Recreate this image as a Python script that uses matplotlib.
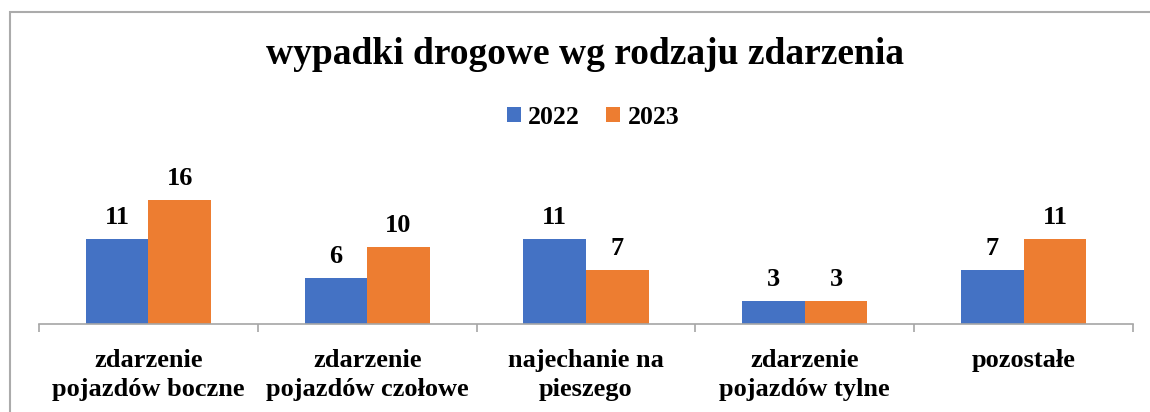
import matplotlib
matplotlib.use("Agg")
import matplotlib.pyplot as plt
import numpy as np
from matplotlib.patches import Rectangle

categories = ["zdarzenie\npojazdów boczne", "zdarzenie\npojazdów czołowe", "najechanie na\npieszego",
              "zdarzenie\npojazdów tylne", "pozostałe"]
series_names = ["2022", "2023"]
values_2022 = [11, 6, 11, 3, 7]
values_2023 = [16, 10, 7, 3, 11]
colors = ["#4472C4", "#ED7D31"]

W, H = 1150, 412
fig = plt.figure(figsize=(W / 100, H / 100), dpi=100)
serif = ["Liberation Serif", "DejaVu Serif"]

# outer border
fig.patches.append(Rectangle((10 / W, -0.1), 1.2, (H - 12) / H + 0.1, transform=fig.transFigure,
                             fill=False, edgecolor="#ABABAB", linewidth=1.5))

ax_left, ax_right = 39, 1133
ax_bottom, ax_top = 324, 150
ax = fig.add_axes([ax_left / W, 1 - ax_bottom / H, (ax_right - ax_left) / W, (ax_bottom - ax_top) / H])
ax.set_xlim(-0.5, len(categories) - 0.5)
ax.set_ylim(0, (ax_bottom - ax_top) / 7.74)

x = np.arange(len(categories))
bw = 0.286
b1 = ax.bar(x - bw / 2, values_2022, bw, color=colors[0], label=series_names[0])
b2 = ax.bar(x + bw / 2, values_2023, bw, color=colors[1], label=series_names[1])
for bars in (b1, b2):
    for r in bars:
        ax.annotate(f"{int(r.get_height())}", (r.get_x() + r.get_width() / 2, r.get_height()),
                    xytext=(0, 7), textcoords="offset points", ha="center", va="bottom",
                    fontsize=19, fontweight="bold", family=serif)

for s in ["top", "right", "left"]:
    ax.spines[s].set_visible(False)
ax.spines["bottom"].set_color("#A6A6A6")
ax.spines["bottom"].set_linewidth(1.2)
ax.set_yticks([])
ax.set_xticks(np.arange(len(categories) + 1) - 0.5, minor=False)
ax.set_xticklabels([])
ax.tick_params(axis="x", length=6, color="#A6A6A6", width=1.2)
ax.set_xticks(x, minor=True)
ax.set_xticklabels(categories, minor=True, fontsize=19, fontweight="bold", family=serif,
                   linespacing=1.32)
ax.tick_params(axis="x", which="minor", length=0, pad=18)

fig.text(0.5 + 10 / W, 1 - 55 / H, "wypadki drogowe wg rodzaju zdarzenia", ha="center", va="center",
         fontsize=27, fontweight="bold", family=serif)

leg = fig.legend(handles=[b1, b2], labels=series_names, loc="center", bbox_to_anchor=(0.5 + 18 / W, 1 - 117 / H),
                 ncol=2, frameon=False, prop={"family": serif, "weight": "bold", "size": 18.5},
                 handlelength=0.55, handleheight=0.55, handletextpad=0.3, columnspacing=1.0)

fig.savefig("out.png", dpi=100)
